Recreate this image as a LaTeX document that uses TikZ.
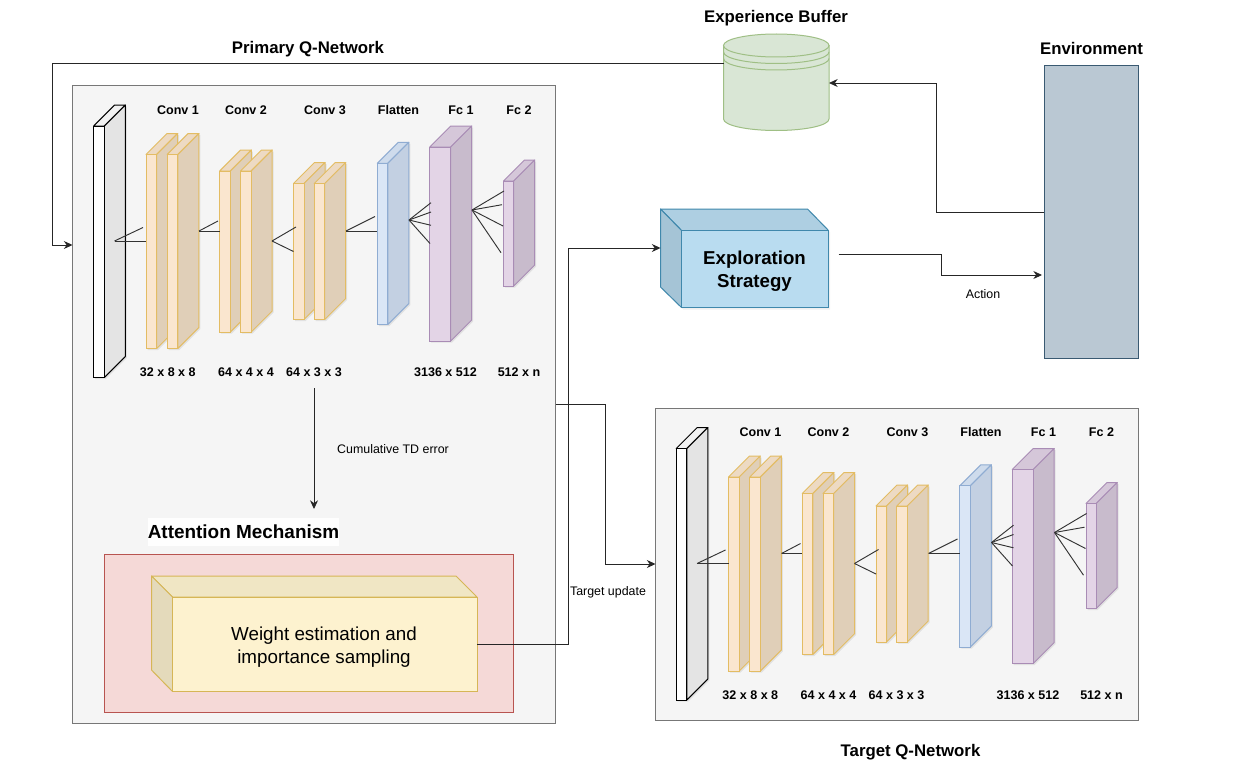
\documentclass[tikz,border=0pt]{standalone}
\usepackage{fontspec}
\setmainfont{Liberation Sans}
\usetikzlibrary{arrows.meta}
\definecolor{orF}{HTML}{FAE6CF}\definecolor{orS}{HTML}{E0CFB8}\definecolor{orD}{HTML}{E3BC63}
\definecolor{blF}{HTML}{DAE6F6}\definecolor{blS}{HTML}{C3D0E2}\definecolor{blD}{HTML}{8FACD2}
\definecolor{puF}{HTML}{E3D4E6}\definecolor{puS}{HTML}{C8BBCC}\definecolor{puD}{HTML}{A98CB5}
\definecolor{whS}{HTML}{E4E4E4}\definecolor{panel}{HTML}{F5F5F5}\definecolor{panelD}{HTML}{777777}
\definecolor{grF}{HTML}{D9E6D5}\definecolor{grD}{HTML}{9FBF85}
\definecolor{enF}{HTML}{BAC8D3}\definecolor{enD}{HTML}{3A5A72}
\definecolor{exF}{HTML}{B9DCF0}\definecolor{exS}{HTML}{A5C4D6}\definecolor{exT}{HTML}{AECFE2}\definecolor{exD}{HTML}{4088AC}
\definecolor{reF}{HTML}{F5D9D7}\definecolor{reD}{HTML}{B85450}
\definecolor{yeF}{HTML}{FDF2CF}\definecolor{yeS}{HTML}{E4DABB}\definecolor{yeT}{HTML}{F0E6C4}\definecolor{yeD}{HTML}{D6B656}
\tikzset{
  conn/.style={draw=black!85,line width=.65pt},
  arr/.style={conn,-{Stealth[length=6.5pt,width=6pt]}},
  fan/.style={draw=black!80,line width=.7pt},
  bold/.style={font=\fontsize{9.4pt}{11pt}\selectfont\bfseries,inner sep=0pt},
  head/.style={font=\fontsize{12.6pt}{15pt}\selectfont\bfseries,inner sep=0pt},
  small/.style={font=\fontsize{9.3pt}{11pt}\selectfont,inner sep=0pt},
  panelbox/.style={draw=panelD,fill=panel,line width=.7pt,inner sep=0pt,outer sep=0pt,anchor=north west},
}
% name x y w h depth front side stroke
\newcommand\layerbox[9]{%
  \fill[black,opacity=.08] ({#2+1.5},{#3+1.5}) -- ({#2+#6+1.5},{#3-#6+1.5}) -- ({#2+#4+#6+1.5},{#3-#6+1.5}) -- ({#2+#4+#6+1.5},{#3+#5-#6+1.5}) -- ({#2+#4+1.5},{#3+#5+1.5}) -- ({#2+1.5},{#3+#5+1.5}) -- cycle;
  \draw[draw=#9,fill=#8!50!#7,line width=.75pt,line join=round] (#2,#3) -- ({#2+#6},{#3-#6}) -- ({#2+#4+#6},{#3-#6}) -- ({#2+#4},#3) -- cycle;
  \draw[draw=#9,fill=#8,line width=.75pt,line join=round] ({#2+#4},#3) -- ({#2+#4+#6},{#3-#6}) -- ({#2+#4+#6},{#3+#5-#6}) -- ({#2+#4},{#3+#5}) -- cycle;
  \node[draw=#9,fill=#7,line width=.75pt,inner sep=0pt,outer sep=0pt,anchor=north west,minimum width=#4*0.75pt,minimum height=#5*0.75pt] (#1) at (#2,#3) {};
}
% prefix
\newcommand\qnet[1]{%
  \layerbox{#1in}{93.7}{126}{10.6}{251.5}{21}{white}{whS}{black}
  \layerbox{#1c1a}{146}{154.5}{10.7}{194}{21}{orF}{orS}{orD}
  \layerbox{#1c1b}{167.2}{154.5}{10.7}{194}{21}{orF}{orS}{orD}
  \layerbox{#1c2a}{219.7}{171}{10.7}{161}{21}{orF}{orS}{orD}
  \layerbox{#1c2b}{240.5}{171}{10.7}{161}{21}{orF}{orS}{orD}
  \layerbox{#1c3a}{293.5}{183.5}{10.5}{136}{21}{orF}{orS}{orD}
  \layerbox{#1c3b}{314.2}{183.5}{10.5}{136}{21}{orF}{orS}{orD}
  \layerbox{#1fl}{377.3}{163.3}{10.5}{161.2}{21}{blF}{blS}{blD}
  \layerbox{#1f1}{429.7}{147}{21}{194}{21}{puF}{puS}{puD}
  \layerbox{#1f2}{503.5}{181}{10.2}{105}{21}{puF}{puS}{puD}
  \coordinate (#1a1) at (114.5,241);
  \draw[fan] (#1a1) -- (143,227.5);
  \draw[fan] (#1a1) -- (#1c1a.west |- 0,241);
  \coordinate (#1a2) at (199,231);
  \draw[fan] (#1a2) -- (218,221);
  \draw[fan] (#1a2) -- (#1c2a.west |- 0,231);
  \coordinate (#1a3) at (272,241);
  \draw[fan] (#1a3) -- (296,227);
  \draw[fan] (#1a3) -- (293.5,251.5);
  \coordinate (#1a4) at (346,231);
  \draw[fan] (#1a4) -- (375,216.5);
  \draw[fan] (#1a4) -- (#1fl.west |- 0,231);
  \coordinate (#1a5) at (409,220);
  \draw[fan] (#1a5) -- (431,202.7);
  \draw[fan] (#1a5) -- (431,212);
  \draw[fan] (#1a5) -- (431,225.3);
  \draw[fan] (#1a5) -- (430,243.5);
  \coordinate (#1a6) at (472,210);
  \draw[fan] (#1a6) -- (504,191);
  \draw[fan] (#1a6) -- (502,204.7);
  \draw[fan] (#1a6) -- (503,226);
  \draw[fan] (#1a6) -- (501,252.7);
  \node[bold] (#1t1) at (178,110) {Conv 1};
  \node[bold] (#1t2) at (246,110) {Conv 2};
  \node[bold] (#1t3) at (325,110) {Conv 3};
  \node[bold] (#1t4) at (398.5,110) {Flatten};
  \node[bold] (#1t5) at (461,110) {Fc 1};
  \node[bold] (#1t6) at (519,110) {Fc 2};
  \node[bold] (#1d1) at (167.8,372.5) {32 x 8 x 8};
  \node[bold] (#1d2) at (246,372.5) {64 x 4 x 4};
  \node[bold] (#1d3) at (314,372.5) {64 x 3 x 3};
  \node[bold] (#1d4) at (445.5,372.5) {3136 x 512};
  \node[bold] (#1d5) at (519,372.5) {512 x n};
}
\newcommand\lowarc[1]{(723.5,#1) .. controls (723.5,{#1+6.4}) and (747.1,{#1+11.5}) .. (776.25,{#1+11.5}) .. controls (805.4,{#1+11.5}) and (829,{#1+6.4}) .. (829,#1)}
\begin{document}
\begin{tikzpicture}[x=0.75pt,y=-0.75pt]
\useasboundingbox (0,0) rectangle (1244,774);
\fill[white] (0,0) rectangle (1244,774);

% panels
\node[panelbox,minimum width=483*0.75pt,minimum height=637.5*0.75pt] (pnet) at (72.5,85.5) {};
\node[panelbox,minimum width=483*0.75pt,minimum height=312*0.75pt] (tnet) at (655.5,408) {};
\node[draw=reD,fill=reF,line width=.7pt,inner sep=0pt,outer sep=0pt,anchor=north west,minimum width=409.5*0.75pt,minimum height=158.5*0.75pt] (attn) at (104,554) {};

\qnet{p}
\begin{scope}[shift={(582.5,322.5)}]
\qnet{t}
\end{scope}

% experience buffer
\node[inner sep=0pt,outer sep=0pt,minimum width=105.5*0.75pt,minimum height=97*0.75pt] (buffer) at (776.25,82.5) {};
\draw[draw=grD,fill=grF,line width=.75pt] (723.5,45.5) -- \lowarc{119} -- (829,45.5) -- cycle;
\draw[draw=grD,fill=grF,line width=.75pt] (776.25,45.5) ellipse [x radius=52.75,y radius=11.5];
\draw[draw=grD,line width=.75pt] \lowarc{52};
\draw[draw=grD,line width=.75pt] \lowarc{58.5};

% environment
\node[draw=enD,fill=enF,line width=.75pt,inner sep=0pt,outer sep=0pt,anchor=north west,minimum width=94.5*0.75pt,minimum height=293*0.75pt] (env) at (1044,65.5) {};

% exploration cube
\fill[black,opacity=.06] (662,210.5) -- (809.5,210.5) -- (830,232) -- (830,309.5) -- (683,309.5) -- (662,288.5) -- cycle;
\draw[draw=exD,fill=exT,line width=.75pt,line join=round] (660.5,209) -- (807.5,209) -- (828.5,230.5) -- (681.5,230.5) -- cycle;
\draw[draw=exD,fill=exS,line width=.75pt,line join=round] (660.5,209) -- (681.5,230.5) -- (681.5,307.5) -- (660.5,287) -- cycle;
\node[draw=exD,fill=exF,line width=.75pt,inner sep=0pt,outer sep=0pt,anchor=north west,minimum width=147*0.75pt,minimum height=77*0.75pt] (explore) at (681.5,230.5) {};
\node[align=center,inner sep=0pt,font=\fontsize{14pt}{17.2pt}\selectfont\bfseries] (exploretxt) at (754.5,271.5) {Exploration\\Strategy};

% weight cube
\draw[draw=yeD,fill=yeT,line width=.75pt,line join=round] (151.5,576) -- (456,576) -- (477,597) -- (172.5,597) -- cycle;
\draw[draw=yeD,fill=yeS,line width=.75pt,line join=round] (151.5,576) -- (172.5,597) -- (172.5,691.5) -- (151.5,670) -- cycle;
\node[draw=yeD,fill=yeF,line width=.75pt,inner sep=0pt,outer sep=0pt,anchor=north west,minimum width=304.5*0.75pt,minimum height=94.5*0.75pt] (weight) at (172.5,597) {};
\node[align=center,inner sep=0pt,font=\fontsize{14.1pt}{17.2pt}\selectfont] (weighttxt) at (324,647) {Weight estimation and\\importance sampling};

% titles
\node[head] (tprimary) at (308,49.5) {Primary Q-Network};
\node[head] (tbuffer) at (776,18) {Experience Buffer};
\node[head] (tenv) at (1091.5,48) {Environment};
\node[head] (ttarget) at (910.5,752) {Target Q-Network};
\node[fill=white,fill opacity=.9,text opacity=1,inner xsep=0pt,inner ysep=5pt,font=\fontsize{14.2pt}{17pt}\selectfont\bfseries] (tattn) at (243.5,532) {Attention Mechanism};

% connectors
\draw[arr] (buffer.west |- 0,63.6) -- (52,63.6) -- (52,245) -- (pnet.west |- 0,245);
\draw[arr] (env.west |- 0,212) -- (936.6,212) -- (936.6,83) -- (buffer.east |- 0,83);
\coordinate (exout) at (838.5,254);
\draw[arr] (exout) -- (941,254) -- (941,275) -- (1042,275);
\draw[arr] (weight.east |- 0,644.5) -- (568.6,644.5) -- (568.6,248) -- (660.5,248);
\draw[arr] (pnet.east |- 0,404.6) -- (605.6,404.6) -- (605.6,564) -- (tnet.west |- 0,564);
\coordinate (tdstart) at (314,388);
\draw[arr] (tdstart) -- (314,509);

\node[small] (ltd) at (393,449) {Cumulative TD error};
\node[small] (ltu) at (608,592) {Target update};
\node[small] (lact) at (983,294.5) {Action};
\end{tikzpicture}
\end{document}
